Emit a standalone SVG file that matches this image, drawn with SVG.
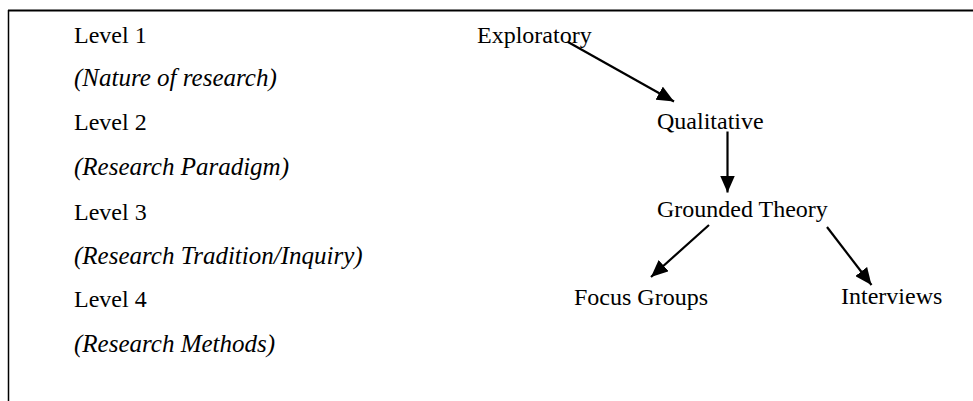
<svg xmlns="http://www.w3.org/2000/svg" width="973" height="401" viewBox="0 0 973 401">
<style>
text{font-family:"Liberation Serif","Times New Roman",serif;font-size:24px;fill:#000}
.it{font-style:italic;font-size:25px}
.c{stroke:#000;stroke-width:2.2;fill:none}
.b{stroke:#000;fill:none}
</style>
<defs>
<marker id="ah" viewBox="0 0 17 15" refX="17" refY="7.5" markerWidth="17" markerHeight="15" markerUnits="userSpaceOnUse" orient="auto">
<path d="M0,0 L17,7.5 L0,15 Z" fill="#000"/>
</marker>
</defs>
<rect width="973" height="401" fill="#fff"/>
<g id="frame">
<line class="b" x1="8" y1="10.5" x2="973" y2="10.5" stroke-width="2"/>
<line class="b" x1="8.5" y1="10" x2="8.5" y2="401" stroke-width="1.5"/>
</g>
<g id="levels">
<text x="74" y="43">Level 1</text>
<text class="it" x="74" y="86">(Nature of research)</text>
<text x="74" y="130">Level 2</text>
<text class="it" x="74" y="175">(Research Paradigm)</text>
<text x="74" y="220">Level 3</text>
<text class="it" x="74" y="264">(Research Tradition/Inquiry)</text>
<text x="74" y="307">Level 4</text>
<text class="it" x="74" y="352">(Research Methods)</text>
</g>
<g id="exploratory"><text x="477" y="43">Exploratory</text></g>
<g id="qualitative"><text x="657" y="129">Qualitative</text></g>
<g id="grounded-theory"><text x="657" y="217">Grounded Theory</text></g>
<g id="focus-groups"><text x="574" y="305">Focus Groups</text></g>
<g id="interviews"><text x="841" y="304">Interviews</text></g>
<g id="connectors">
<line class="c" x1="568" y1="42" x2="674" y2="101.5" marker-end="url(#ah)"/>
<line class="c" x1="727.5" y1="131.5" x2="727.5" y2="192.5" marker-end="url(#ah)"/>
<line class="c" x1="709" y1="225" x2="651" y2="277" marker-end="url(#ah)"/>
<line class="c" x1="827" y1="227" x2="871.5" y2="285" marker-end="url(#ah)"/>
</g>
</svg>
